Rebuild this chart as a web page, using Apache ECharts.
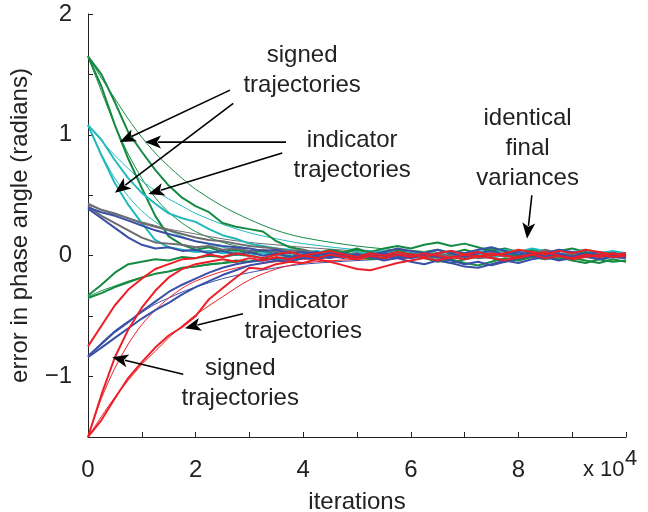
<!DOCTYPE html>
<html>
<head>
<meta charset="utf-8">
<script src="https://cdn.jsdelivr.net/npm/echarts@6/dist/echarts.min.js"></script>
<style>
  html, body { margin: 0; padding: 0; background: #fff; }
  #chart { width: 648px; height: 512px; }
</style>
</head>
<body>
<div id="chart"></div>
<script>
// iterations (x 10^4), one sample every 2500 iterations
const xs = [0, 0.25, 0.5, 0.75, 1, 1.25, 1.5, 1.75, 2, 2.25, 2.5, 2.75, 3, 3.25, 3.5, 3.75,
  4, 4.25, 4.5, 4.75, 5, 5.25, 5.5, 5.75, 6, 6.25, 6.5, 6.75, 7, 7.25, 7.5, 7.75,
  8, 8.25, 8.5, 8.75, 9, 9.25, 9.5, 9.75, 10];
// x positions of the thin smooth curves
const fitXs = [0, 0.25, 0.5, 0.75, 1, 1.25, 1.5, 1.75, 2, 2.5, 3, 3.5, 4, 5, 6, 7, 8, 10];

// noisy trajectories
const greenFast = [1.65, 1.40, 1.08, 0.80, 0.56, 0.33, 0.16, 0.09, 0.05, 0.07, 0.03, 0.05, 0.02, 0.04, 0.01, 0.03,
  -0.01, 0.02, 0.05, 0.03, 0.06, 0.02, -0.02, 0.01, 0.04, 0.03, 0.05, 0.02, 0.05, 0.02, 0.06, 0.03,
  -0.01, 0.02, 0.00, -0.03, 0.01, 0.03, 0.00, 0.02, -0.01];
const greenSlow = [1.65, 1.50, 1.27, 1.02, 0.86, 0.71, 0.58, 0.48, 0.41, 0.36, 0.27, 0.24, 0.22, 0.20, 0.12, 0.07,
  0.05, 0.02, 0.04, 0.01, -0.02, 0.00, 0.03, 0.05, 0.02, -0.01, -0.04, -0.06, -0.03, 0.00, -0.02, -0.05,
  -0.03, 0.00, 0.02, -0.01, -0.04, -0.06, -0.03, -0.05, -0.04];
const cyanFast = [1.08, 0.83, 0.60, 0.42, 0.27, 0.13, 0.07, 0.05, 0.03, 0.04, 0.02, 0.03, 0.00, 0.02, 0.01, -0.01,
  0.02, 0.00, 0.03, 0.01, -0.01, 0.02, 0.04, 0.01, 0.03, 0.00, 0.02, -0.02, 0.01, 0.04, 0.02, 0.05,
  0.03, 0.06, 0.04, 0.01, 0.03, 0.00, 0.02, 0.04, 0.02];
const cyanSlow = [1.08, 0.96, 0.79, 0.64, 0.52, 0.43, 0.35, 0.31, 0.28, 0.22, 0.17, 0.14, 0.10, 0.08, 0.06, 0.05,
  0.03, 0.04, 0.02, 0.00, 0.03, 0.01, -0.01, 0.02, 0.00, 0.03, 0.01, -0.02, 0.00, 0.02, -0.01, 0.01,
  0.03, 0.00, -0.02, 0.01, 0.03, 0.05, 0.02, 0.00, 0.01];
const grayA = [0.43, 0.38, 0.35, 0.31, 0.27, 0.24, 0.21, 0.18, 0.15, 0.13, 0.12, 0.10, 0.08, 0.07, 0.06, 0.04,
  0.05, 0.02, 0.03, 0.00, 0.02, -0.01, 0.01, 0.03, 0.00, -0.02, 0.01, 0.00, -0.03, -0.01, 0.02, 0.00,
  -0.02, 0.01, 0.05, 0.02, -0.01, 0.00, 0.03, 0.01, 0.00];
const grayB = [0.41, 0.33, 0.27, 0.21, 0.15, 0.11, 0.10, 0.09, 0.07, 0.08, 0.05, 0.06, 0.04, 0.05, 0.03, 0.02,
  0.04, 0.01, 0.03, 0.02, 0.00, 0.02, 0.01, -0.01, 0.02, 0.00, -0.02, 0.01, 0.00, -0.02, -0.01, -0.04,
  -0.02, 0.00, -0.03, -0.01, 0.02, -0.01, -0.03, 0.00, -0.02];
const blueA = [0.39, 0.31, 0.23, 0.15, 0.09, 0.06, 0.07, 0.04, 0.05, 0.02, 0.04, 0.01, 0.03, 0.00, 0.02, -0.01,
  0.01, 0.03, 0.00, 0.02, -0.02, 0.01, 0.03, 0.06, 0.04, 0.02, 0.05, 0.02, -0.01, 0.02, 0.04, 0.01,
  0.03, 0.00, 0.02, 0.05, 0.03, 0.01, -0.01, 0.02, 0.00];
const blueB = [0.40, 0.36, 0.33, 0.29, 0.25, 0.21, 0.18, 0.15, 0.12, 0.10, 0.08, 0.07, 0.06, 0.04, 0.05, 0.02,
  0.03, 0.01, 0.02, 0.00, 0.01, -0.01, 0.02, 0.00, -0.02, 0.01, -0.01, -0.04, -0.07, -0.05, -0.08, -0.05,
  -0.02, 0.00, -0.02, 0.01, -0.01, 0.02, 0.00, -0.01, 0.01];
const greenLowFast = [-0.33, -0.24, -0.14, -0.07, -0.05, -0.03, -0.04, -0.01, -0.02, 0.00, -0.01, 0.01, 0.00, -0.02, 0.01, 0.00,
  -0.02, 0.01, -0.01, 0.02, 0.00, -0.03, -0.01, 0.02, 0.00, -0.02, -0.05, -0.03, -0.06, -0.08, -0.05, -0.02,
  -0.04, -0.01, -0.03, 0.00, -0.02, -0.04, -0.06, -0.03, -0.05];
const greenLowSlow = [-0.35, -0.31, -0.26, -0.22, -0.18, -0.15, -0.13, -0.10, -0.09, -0.07, -0.06, -0.04, -0.05, -0.03, -0.02, -0.01,
  0.01, 0.00, 0.03, 0.02, 0.05, 0.03, 0.06, 0.08, 0.06, 0.09, 0.11, 0.08, 0.10, 0.07, 0.04, 0.06,
  0.03, 0.05, 0.02, 0.04, 0.06, 0.03, 0.01, 0.03, 0.00];
const blueLowA = [-0.83, -0.73, -0.63, -0.55, -0.46, -0.38, -0.30, -0.24, -0.19, -0.14, -0.10, -0.07, -0.05, -0.04, -0.02, -0.03,
  -0.01, 0.00, -0.02, 0.01, -0.01, 0.02, 0.00, -0.02, 0.01, -0.01, 0.02, 0.04, 0.02, 0.05, 0.07, 0.04,
  0.01, 0.03, 0.00, 0.02, -0.01, 0.01, 0.03, 0.00, 0.02];
const blueLowB = [-0.84, -0.76, -0.68, -0.60, -0.52, -0.45, -0.39, -0.32, -0.26, -0.21, -0.16, -0.12, -0.08, -0.06, -0.04, -0.05,
  -0.02, -0.03, 0.00, -0.02, 0.01, -0.01, -0.04, -0.02, -0.05, -0.07, -0.04, -0.06, -0.09, -0.10, -0.07, -0.04,
  -0.06, -0.03, -0.01, -0.04, -0.02, 0.00, -0.03, -0.01, -0.02];
const redMid = [-0.75, -0.58, -0.41, -0.28, -0.19, -0.11, -0.07, -0.03, -0.02, 0.01, -0.01, 0.02, 0.00, -0.02, 0.01, 0.03,
  0.00, 0.02, 0.04, 0.01, -0.01, 0.02, 0.00, 0.03, 0.01, -0.01, 0.02, 0.04, 0.01, 0.03, 0.00, 0.02,
  0.05, 0.03, 0.01, 0.04, 0.02, 0.05, 0.03, 0.01, 0.02];
const redFast = [-1.50, -1.15, -0.84, -0.61, -0.43, -0.29, -0.18, -0.11, -0.07, -0.05, -0.03, -0.05, -0.02, -0.04, -0.01, -0.03,
  0.00, -0.02, 0.01, -0.01, -0.03, 0.00, -0.02, 0.01, -0.01, 0.02, 0.00, -0.02, 0.01, -0.01, 0.02, 0.00,
  -0.02, 0.01, 0.03, 0.00, -0.02, 0.01, -0.01, 0.02, 0.00];
const redSlow = [-1.50, -1.36, -1.18, -1.01, -0.88, -0.76, -0.66, -0.59, -0.50, -0.36, -0.27, -0.18, -0.10, -0.11, -0.07, -0.05,
  -0.06, -0.03, -0.05, -0.08, -0.11, -0.12, -0.09, -0.06, -0.04, -0.02, -0.04, -0.01, -0.03, 0.00, -0.02, -0.04,
  -0.01, 0.01, -0.02, 0.00, -0.03, -0.01, 0.01, -0.01, 0.00];

// thin smooth curves
const fitGreenFast = [1.65, 1.36, 1.08, 0.84, 0.64, 0.48, 0.36, 0.27, 0.20, 0.11, 0.06, 0.035, 0.02, 0.01, 0, 0, 0, 0];
const fitGreenSlow = [1.65, 1.47, 1.30, 1.13, 0.98, 0.85, 0.74, 0.64, 0.55, 0.41, 0.30, 0.21, 0.15, 0.08, 0.04, 0.02, 0.01, 0];
const fitCyanFast = [1.08, 0.84, 0.64, 0.49, 0.37, 0.28, 0.21, 0.16, 0.12, 0.07, 0.04, 0.02, 0.01, 0, 0, 0, 0, 0];
const fitCyanSlow = [1.08, 0.95, 0.83, 0.72, 0.62, 0.54, 0.47, 0.41, 0.35, 0.26, 0.19, 0.14, 0.10, 0.05, 0.025, 0.01, 0, 0];
const fitGray = [0.42, 0.38, 0.34, 0.31, 0.28, 0.25, 0.22, 0.20, 0.18, 0.14, 0.11, 0.09, 0.07, 0.04, 0.02, 0.01, 0.005, 0];
const fitGreenLow = [-0.34, -0.29, -0.25, -0.21, -0.18, -0.15, -0.13, -0.11, -0.09, -0.065, -0.045, -0.03, -0.02, -0.01, 0, 0, 0, 0];
const fitBlueLow = [-0.83, -0.72, -0.62, -0.54, -0.47, -0.40, -0.35, -0.30, -0.26, -0.19, -0.14, -0.10, -0.07, -0.04, -0.02, -0.01, 0, 0];
const fitRedFast = [-1.50, -1.18, -0.93, -0.73, -0.57, -0.45, -0.35, -0.27, -0.21, -0.13, -0.08, -0.05, -0.03, -0.01, 0, 0, 0, 0];
const fitRedSlow = [-1.50, -1.33, -1.17, -1.03, -0.90, -0.79, -0.68, -0.58, -0.49, -0.34, -0.20, -0.11, -0.06, -0.03, -0.015, -0.008, 0, 0];

const GREEN = '#158a43', CYAN = '#22b9bd', GRAY = '#6d6d70', BLUE = '#3a4fa6', RED = '#ec1f28';
const FONT = 'Liberation Sans, Arial, Helvetica, sans-serif';

function pairs(xv, yv) { return xv.map((x, i) => [x, yv[i]]); }

function noisy(data, color) {
  return { type: 'line', data: pairs(xs, data), showSymbol: false, symbol: 'none',
    lineStyle: { color: color, width: 2 }, z: 3 };
}
function thin(data, color) {
  return { type: 'line', data: pairs(fitXs, data), showSymbol: false, symbol: 'none',
    smooth: 0.3, lineStyle: { color: color, width: 1 }, z: 2 };
}

const chart = echarts.init(document.getElementById('chart'));

chart.setOption({
  animation: false,
  grid: { left: 88, right: 22, top: 14, bottom: 75, outerBoundsMode: 'none' },
  xAxis: {
    type: 'value', min: 0, max: 10, interval: 1,
    name: 'iterations', nameLocation: 'middle', nameGap: 53,
    nameTextStyle: { fontFamily: FONT, fontSize: 24, color: '#222' },
    axisLine: { onZero: false, lineStyle: { color: '#222', width: 1 } },
    axisTick: { inside: true, length: 5, lineStyle: { color: '#222' } },
    axisLabel: { fontFamily: FONT, fontSize: 24, color: '#222', margin: 21,
      formatter: v => (v % 2 === 0 && v < 10) ? String(v) : '' },
    splitLine: { show: false }
  },
  yAxis: {
    type: 'value', min: -1.5, max: 2, interval: 0.5,
    name: 'error in phase angle (radians)', nameLocation: 'middle', nameGap: 56,
    nameTextStyle: { fontFamily: FONT, fontSize: 24, color: '#222' },
    axisLine: { show: true, onZero: false, lineStyle: { color: '#222', width: 1 } },
    axisTick: { show: true, inside: true, length: 5, lineStyle: { color: '#222' } },
    axisLabel: { fontFamily: FONT, fontSize: 24, color: '#222', margin: 16,
      formatter: v => Number.isInteger(v) ? (v < 0 ? '\u2212' + Math.abs(v) : String(v)) : '' },
    splitLine: { show: false }
  },
  series: [
    thin(fitGreenFast, GREEN), thin(fitGreenSlow, GREEN),
    thin(fitCyanFast, CYAN), thin(fitCyanSlow, CYAN),
    thin(fitGray, GRAY), thin(fitGreenLow, GREEN), thin(fitBlueLow, BLUE),
    thin(fitRedFast, RED), thin(fitRedSlow, RED),
    noisy(greenFast, GREEN), noisy(greenSlow, GREEN),
    noisy(greenLowFast, GREEN), noisy(greenLowSlow, GREEN),
    noisy(cyanFast, CYAN), noisy(cyanSlow, CYAN),
    noisy(grayA, GRAY), noisy(grayB, GRAY),
    noisy(blueA, BLUE), noisy(blueB, BLUE),
    noisy(blueLowA, BLUE), noisy(blueLowB, BLUE),
    noisy(redMid, RED), noisy(redFast, RED), noisy(redSlow, RED)
  ]
});

// annotations, placed in data coordinates
const notes = [
  { text: 'signed\ntrajectories', at: [3.98, 1.53] },
  { text: 'indicator\ntrajectories', at: [4.91, 0.83] },
  { text: 'identical\nfinal\nvariances', at: [8.17, 0.89] },
  { text: 'indicator\ntrajectories', at: [4.00, -0.50] },
  { text: 'signed\ntrajectories', at: [2.83, -1.06] }
];
const arrows = [
  { from: [2.64, 1.37], to: [0.59, 0.94] },
  { from: [2.70, 1.26], to: [0.50, 0.52] },
  { from: [3.68, 0.94], to: [1.06, 0.94] },
  { from: [3.61, 0.85], to: [1.12, 0.51] },
  { from: [8.25, 0.50], to: [8.16, 0.14] },
  { from: [2.88, -0.48], to: [1.80, -0.60] },
  { from: [1.77, -0.98], to: [0.45, -0.84] }
];

const px = p => chart.convertToPixel({ gridIndex: 0 }, p);
const graphic = [];
notes.forEach(n => {
  const p = px(n.at);
  graphic.push({ type: 'text', x: p[0], y: p[1], z: 10,
    style: { text: n.text, fontFamily: FONT, fontSize: 24, fill: '#222',
      lineHeight: 30, align: 'center', verticalAlign: 'middle' } });
});
arrows.forEach(a => {
  const p0 = px(a.from), p1 = px(a.to);
  const dx = p1[0] - p0[0], dy = p1[1] - p0[1];
  const len = Math.sqrt(dx * dx + dy * dy);
  const ux = dx / len, uy = dy / len;
  const hl = 16, hw = 6.5;
  const bx = p1[0] - ux * hl, by = p1[1] - uy * hl;
  graphic.push({ type: 'line', z: 10,
    shape: { x1: p0[0], y1: p0[1], x2: bx + ux * 3, y2: by + uy * 3 },
    style: { stroke: '#000', lineWidth: 1.6 } });
  graphic.push({ type: 'polygon', z: 10,
    shape: { points: [[p1[0], p1[1]], [bx - uy * hw, by + ux * hw], [bx + ux * 4, by + uy * 4], [bx + uy * hw, by - ux * hw]] },
    style: { fill: '#000' } });
});
// exponent label of the x axis
const e = px([10, -1.5]);
graphic.push({ type: 'text', x: e[0] - 43, y: e[1] + 33, z: 10,
  style: { text: 'x 10', fontFamily: FONT, fontSize: 22, fill: '#222', align: 'left', verticalAlign: 'middle' } });
graphic.push({ type: 'text', x: e[0] - 1, y: e[1] + 22, z: 10,
  style: { text: '4', fontFamily: FONT, fontSize: 22, fill: '#222', align: 'left', verticalAlign: 'middle' } });

chart.setOption({ graphic: graphic });
</script>
</body>
</html>
